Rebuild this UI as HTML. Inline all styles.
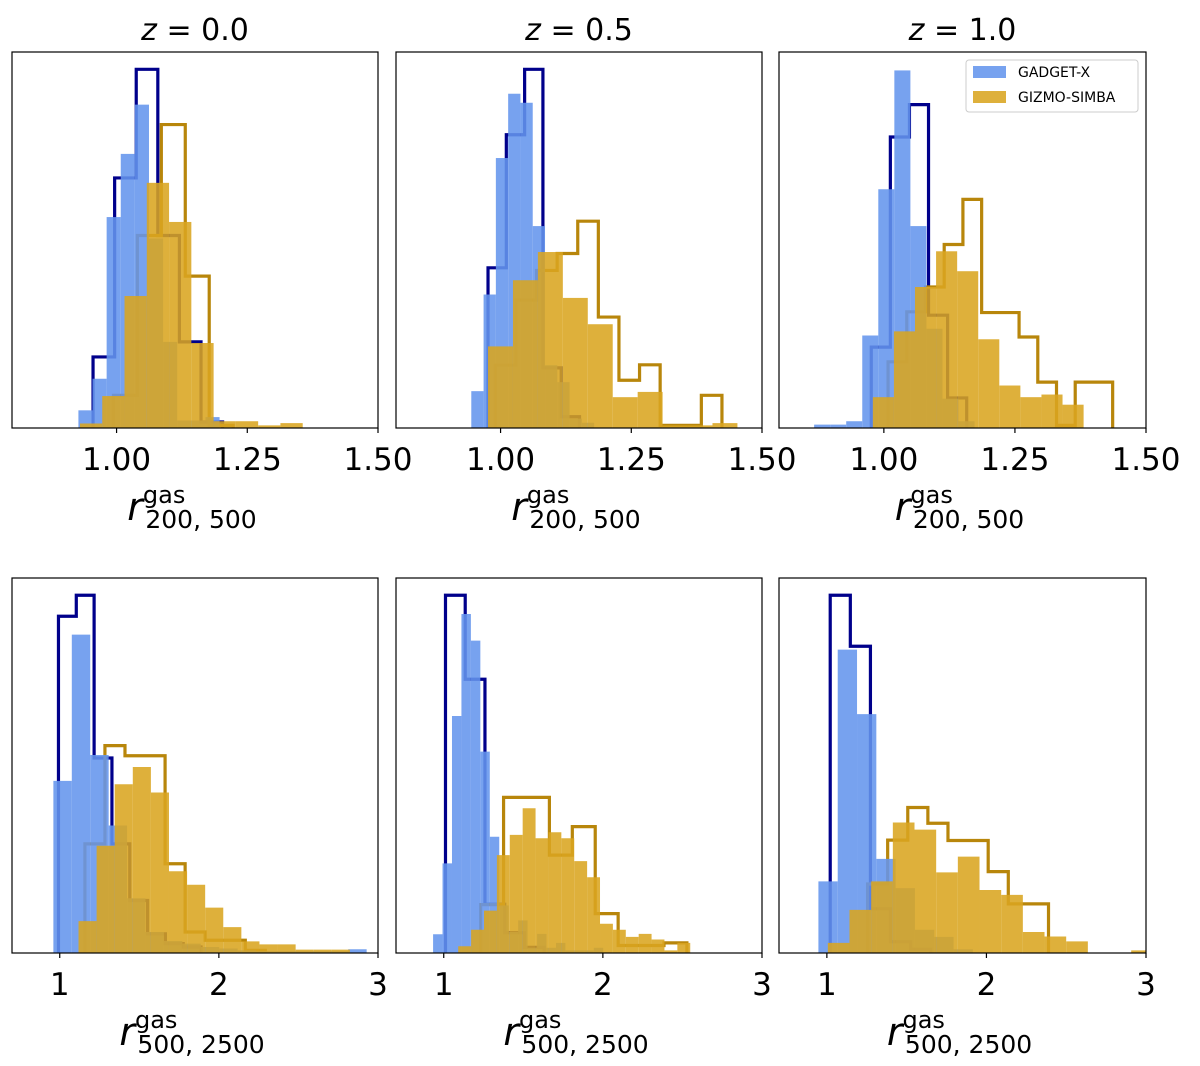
<!DOCTYPE html>
<html><head><meta charset="utf-8"><style>
body{margin:0;background:#fff;}
svg{display:block;font-family:"DejaVu Sans","Liberation Sans",sans-serif;}
</style></head><body>
<svg id="chart" width="1200" height="1066" viewBox="0 0 1200 1066"></svg>
<script>
// ---- data (heights in % of panel height) ----
const topDomain=[0.8,1.5], botDomain=[0.7,3];
const topTicks=[1.0,1.25,1.5], topTickLabels=["1.00","1.25","1.50"];
const botTicks=[1,2,3], botTickLabels=["1","2","3"];
const titles=["0.0","0.5","1.0"];
// panel 1 (z=0, r200/500)
const p1BlueStart=0.927, p1BlueW=0.027, p1Blue=[4.7,13.1,56.1,72.9,86.0,50.4,22.9,2.0,2.0,2.9];
const p1NavyStart=0.955, p1NavyW=0.0413, p1Navy=[18.9,66.5,95.4,51.2,22.9,1.6];
const p1OrStart=0.930, p1OrW=0.0426, p1Or=[1.2,8.5,35.1,65.2,54.8,22.6,1.8,1.8,0.7,1.3];
const p1GoldStart=0.994, p1GoldW=0.0458, p1Gold=[8.7,51.2,80.7,40.4,0.7];
// panel 2
const p2BlueStart=0.944, p2BlueW=0.0235, p2Blue=[9.8,35.5,71.8,88.9,86.5,53.7,16.7,12.2,2.5,1.4];
const p2NavyStart=0.976, p2NavyW=0.035, p2Navy=[42.6,78.0,95.4,16.0,3.0];
const p2OrStart=0.976, p2OrW=0.0477, p2Or=[21.7,39.3,46.8,34.6,27.6,8.2,9.6,0.7,0.7,1.3];
const p2GoldStart=0.990, p2GoldW=0.0394, p2Gold=[16.7,34.0,41.9,46.4,55.0,29.5,12.7,16.8,0.7,0.7,8.7];
// panel 3
const p3BlueStart=0.867, p3BlueW=0.0306, p3Blue=[0.9,0.9,1.8,24.6,63.5,95.1,53.7,26.4,7.8,1.8];
const p3NavyStart=0.976, p3NavyW=0.0364, p3Navy=[21.5,77.4,86.0,30.0,8.0];
const p3OrStart=0.979, p3OrW=0.0402, p3Or=[8.2,25.7,37.5,47.0,41.7,23.6,11.3,8.2,8.9,6.2];
const p3GoldStart=1.008, p3GoldW=0.0357, p3Gold=[17.6,30.9,37.5,48.8,60.8,30.7,30.7,24.2,12.2,0.7,12.2,12.2];
// panel 4 (z=0, r500/2500)
const p4BlueStart=0.960, p4BlueW=0.1158, p4Blue=[45.9,84.9,52.8,34.0,14.6,5.6,3.2,2.5,1.6,1.2,0.7,0.5,0.5,0.5,0.5,0.5,1.0];
const p4NavyStart=0.992, p4NavyW=0.112, p4Navy=[89.8,95.4,52.0,29.1,14.0,5.1,2.5,1.6];
const p4OrStart=1.118, p4OrW=0.1137, p4Or=[8.5,28.6,45.0,49.6,42.8,21.8,18.2,12.1,6.9,3.1,2.3,2.3,0.9,0.9,0.9];
const p4GoldStart=1.158, p4GoldW=0.126, p4Gold=[29.1,55.3,52.6,52.6,23.8,5.6,3.4,3.4,0.7];
// panel 5
const p5BlueStart=0.933, p5BlueW=0.0594, p5Blue=[5.0,23.9,63.2,90.4,83.3,53.7,31.0,12.7,5.6,8.7,1.4,5.1,1.4,2.7,0.7,0.7,0.7,1.4];
const p5NavyStart=1.011, p5NavyW=0.124, p5Navy=[95.4,73.0,13.0,5.4,1.5];
const p5OrStart=1.091, p5OrW=0.081, p5Or=[1.8,6.2,11.3,26.1,31.5,38.6,30.6,32.2,30.6,24.5,20.2,7.8,6.2,4.3,5.1,3.6,0.7,2.7];
const p5GoldStart=1.232, p5GoldW=0.144, p5Gold=[12.9,41.5,41.5,26.1,33.7,10.5,2.0,2.0,2.7];
// panel 6
const p6BlueStart=0.947, p6BlueW=0.121, p6Blue=[19.1,80.9,63.7,25.1,17.3,6.2,4.3,1.0];
const p6NavyStart=1.021, p6NavyW=0.126, p6Navy=[95.4,81.8,11.8,3.0,1.0];
const p6OrStart=1.006, p6OrW=0.1358, p6Or=[2.7,11.5,19.1,34.8,32.9,21.5,25.7,16.8,15.5,5.6,4.4,3.1,0,0,0.7];
const p6GoldStart=1.255, p6GoldW=0.126, p6Gold=[18.4,30.1,38.8,34.6,30.0,30.0,21.7,13.1,13.1];

const svg=document.getElementById('chart');
const NS='http://www.w3.org/2000/svg';
function mk(tag,attrs,parent){const e=document.createElementNS(NS,tag);for(const k in attrs)e.setAttribute(k,attrs[k]);(parent||svg).appendChild(e);return e;}

const cols=[[12,378],[396,762],[779,1146]];
const rows=[[52,428],[578,953]];
const panels=[
 {r:0,c:0,b:[p1BlueStart,p1BlueW,p1Blue],n:[p1NavyStart,p1NavyW,p1Navy],o:[p1OrStart,p1OrW,p1Or],g:[p1GoldStart,p1GoldW,p1Gold]},
 {r:0,c:1,b:[p2BlueStart,p2BlueW,p2Blue],n:[p2NavyStart,p2NavyW,p2Navy],o:[p2OrStart,p2OrW,p2Or],g:[p2GoldStart,p2GoldW,p2Gold]},
 {r:0,c:2,b:[p3BlueStart,p3BlueW,p3Blue],n:[p3NavyStart,p3NavyW,p3Navy],o:[p3OrStart,p3OrW,p3Or],g:[p3GoldStart,p3GoldW,p3Gold]},
 {r:1,c:0,b:[p4BlueStart,p4BlueW,p4Blue],n:[p4NavyStart,p4NavyW,p4Navy],o:[p4OrStart,p4OrW,p4Or],g:[p4GoldStart,p4GoldW,p4Gold]},
 {r:1,c:1,b:[p5BlueStart,p5BlueW,p5Blue],n:[p5NavyStart,p5NavyW,p5Navy],o:[p5OrStart,p5OrW,p5Or],g:[p5GoldStart,p5GoldW,p5Gold]},
 {r:1,c:2,b:[p6BlueStart,p6BlueW,p6Blue],n:[p6NavyStart,p6NavyW,p6Navy],o:[p6OrStart,p6OrW,p6Or],g:[p6GoldStart,p6GoldW,p6Gold]}
];

panels.forEach((p,i)=>{
 const [x0,x1]=cols[p.c],[y0,y1]=rows[p.r];
 const dom=p.r===0?topDomain:botDomain;
 const xs=v=>x0+(v-dom[0])/(dom[1]-dom[0])*(x1-x0);
 const ys=h=>y1-h/100*(y1-y0);
 const g=mk('g',{});
 
 
 const cp=mk('clipPath',{id:'cp'+i},g);mk('rect',{x:x0,y:y0,width:x1-x0,height:y1-y0},cp);
 const plot=mk('g',{'clip-path':'url(#cp'+i+')'},g);
 function step(d,color,name){
  const [s,w,h]=d;let pts=[[xs(s),y1]];
  h.forEach((v,k)=>{pts.push([xs(s+k*w),ys(v)]);pts.push([xs(s+(k+1)*w),ys(v)]);});
  pts.push([xs(s+h.length*w),y1]);
  const pl=mk('polyline',{points:pts.map(q=>q.join(',')).join(' '),fill:'none',stroke:color,'stroke-width':3.2},plot);
  
  
 }
 function bars(d,color,name){
  const [s,w,h]=d;
  h.forEach((v,k)=>{const a=xs(s+k*w),b=xs(s+(k+1)*w);
   const r=mk('rect',{x:a,y:ys(v),width:b-a,height:y1-ys(v),fill:color,'fill-opacity':0.88},plot);
   
   });
 }
 step(p.n,'#00008b','gadget-x-step');
 step(p.g,'#b8860b','gizmo-simba-step');
 bars(p.b,'#6495ed','gadget-x');
 bars(p.o,'#daa520','gizmo-simba');
 mk('rect',{x:x0,y:y0,width:x1-x0,height:y1-y0,fill:'none',stroke:'#000','stroke-width':1.2},g);
 const ticks=p.r===0?topTicks:botTicks, labs=p.r===0?topTickLabels:botTickLabels;
 ticks.forEach((t,k)=>{const x=xs(t);
  mk('line',{x1:x,x2:x,y1:y1,y2:y1+5,stroke:'#000','stroke-width':1.2},g);
  const tx=mk('text',{x:x,y:y1+42,'text-anchor':'middle','font-size':31,fill:'#000'},g);tx.textContent=labs[k];
  
  });
 const cx=(x0+x1)/2-3, ly=y1+92;
 const lab=mk('text',{x:cx,y:ly,'text-anchor':'middle',fill:'#000'},g);
 
 
 const sub=p.r===0?'200, 500':'500, 2500';
 lab.innerHTML='<tspan font-style="italic" font-size="38">r</tspan><tspan font-size="24" dy="-17">gas</tspan><tspan font-size="25" dx="-40" dy="25">'+sub+'</tspan>';
 if(p.r===0){
  const t=mk('text',{x:(x0+x1)/2,y:40,'text-anchor':'middle','font-size':30,fill:'#000'},g);
  
  
  t.innerHTML='<tspan font-style="italic">z</tspan> = '+titles[p.c];
 }
});
// legend
const lg=mk('g',{});


mk('rect',{x:966,y:60,width:172,height:52,rx:3,fill:'#fff','fill-opacity':0.8,stroke:'#ccc'},lg);
[['GADGET-X','#6495ed',72],['GIZMO-SIMBA','#daa520',97]].forEach(e=>{
 const r=mk('rect',{x:973,y:e[2]-6,width:33,height:12,fill:e[1],'fill-opacity':0.88},lg);
 
 
 const t=mk('text',{x:1018,y:e[2]+5,'font-size':14,fill:'#000'},lg);t.textContent=e[0];
 
 
});
</script>
</body></html>
